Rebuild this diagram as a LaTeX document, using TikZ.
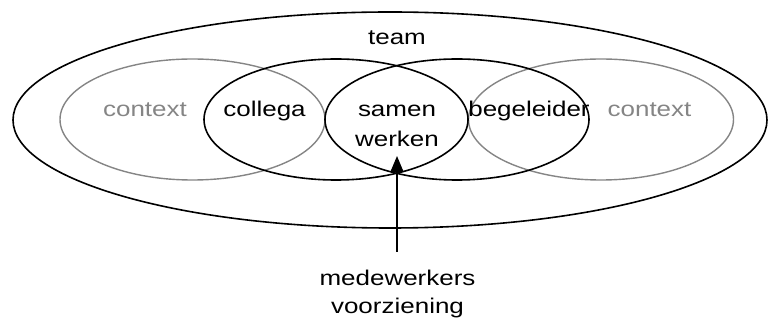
\documentclass[tikz,border=0pt]{standalone}
\usepackage{fontspec}
\setmainfont{Liberation Sans}
\usetikzlibrary{arrows.meta,shapes.geometric}
\definecolor{softgrey}{HTML}{858585}
\begin{document}
\begin{tikzpicture}[x=1pt,y=-1pt,
  ring/.style={ellipse, draw, line width=1.6pt, inner sep=0pt,
    minimum width=264pt, minimum height=121pt},
  greyring/.style={ring, draw=softgrey, line width=1.4pt},
  lbl/.style={font=\fontsize{21.3pt}{29pt}\selectfont, xscale=1.22,
    transform shape, inner sep=0pt, anchor=base, align=center},
  greylbl/.style={lbl, text=softgrey},
  pointer/.style={line width=1.5pt, -{Triangle[length=16pt,width=13pt]}}
]
\useasboundingbox (0,0) rectangle (769,320);

% outer team ellipse
\node[ring, minimum width=754pt, minimum height=216pt] (team) at (390,120) {};

% context rings (grey) and the two partner rings
\node[greyring, minimum width=265pt] (ctxL) at (192.5,119.5) {};
\node[greyring, minimum width=265pt] (ctxR) at (601,119.5) {};
\node[ring] (coll) at (336,119.5) {};
\node[ring] (bege) at (457,119.5) {};

% labels (multi-line labels sit on the baseline of their last line)
\node[lbl] (teamlbl) at (397,45) {team};
\node[greylbl] (ctxLlbl) at (145,117) {context};
\node[lbl] (colllbl) at (264.5,117) {collega};
\node[lbl] (samen) at (397,147) {samen\\[1pt]werken};
\node[lbl] (begelbl) at (529,117) {begeleider};
\node[greylbl] (ctxRlbl) at (649.5,117) {context};
\node[lbl] (mw) at (397.5,314) {medewerkers\\[-1pt]voorziening};

% arrow into the overlap
\coordinate (foot) at (397,252);
\coordinate (lens) at (397,156);
\draw[pointer] (foot) -- (lens);
\end{tikzpicture}
\end{document}
